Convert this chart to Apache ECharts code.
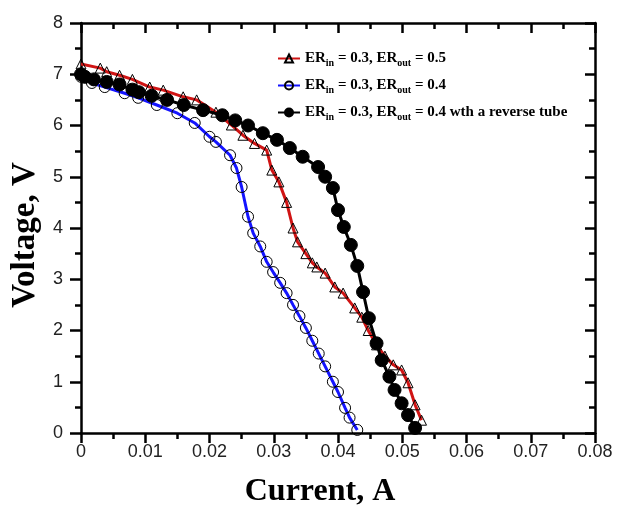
<!DOCTYPE html>
<html>
<head>
<meta charset="utf-8">
<script src="https://cdn.jsdelivr.net/npm/echarts@6/dist/echarts.min.js"></script>
<style>
  html, body { margin: 0; padding: 0; background: #fff; }
  #chart { width: 618px; height: 513px; }
</style>
</head>
<body>
<div id="chart"></div>
<script>
// current (A) / voltage (V)
const redX = [0, 0.003, 0.004, 0.006, 0.008, 0.0107, 0.0128, 0.0159, 0.018, 0.021, 0.0234, 0.0252, 0.027, 0.0289, 0.0297, 0.0308, 0.032, 0.033, 0.0337, 0.035, 0.036, 0.0367, 0.038, 0.0395, 0.0408, 0.0426, 0.0437, 0.0447, 0.046, 0.0473, 0.0486, 0.0499, 0.0509, 0.052, 0.053];
const redY = [7.2, 7.12, 7.05, 6.98, 6.9, 6.75, 6.69, 6.56, 6.5, 6.26, 6.01, 5.81, 5.65, 5.52, 5.13, 4.9, 4.5, 4.0, 3.73, 3.5, 3.32, 3.24, 3.12, 2.85, 2.73, 2.44, 2.26, 2.0, 1.72, 1.5, 1.33, 1.23, 0.98, 0.55, 0.25];

const blueX = [0, 0.0017, 0.0037, 0.0068, 0.0089, 0.0118, 0.015, 0.0177, 0.02, 0.021, 0.0232, 0.0242, 0.025, 0.026, 0.0268, 0.0279, 0.0289, 0.0299, 0.031, 0.032, 0.033, 0.034, 0.035, 0.036, 0.037, 0.038, 0.0392, 0.040, 0.0411, 0.0418, 0.043];
const blueY = [6.95, 6.83, 6.75, 6.63, 6.54, 6.4, 6.24, 6.05, 5.78, 5.68, 5.42, 5.17, 4.8, 4.22, 3.9, 3.64, 3.34, 3.14, 2.93, 2.73, 2.5, 2.28, 2.05, 1.8, 1.55, 1.3, 1.0, 0.8, 0.49, 0.3, 0.06];

const blackX = [0, 0.0006, 0.002, 0.004, 0.006, 0.008, 0.009, 0.011, 0.0134, 0.016, 0.019, 0.022, 0.024, 0.026, 0.0283, 0.0305, 0.0325, 0.0345, 0.0369, 0.038, 0.0392, 0.040, 0.0409, 0.042, 0.043, 0.0439, 0.0448, 0.046, 0.0468, 0.048, 0.0488, 0.0499, 0.0509, 0.052];
const blackY = [7.0, 6.95, 6.9, 6.85, 6.8, 6.7, 6.65, 6.58, 6.5, 6.4, 6.3, 6.2, 6.1, 6.0, 5.85, 5.72, 5.56, 5.39, 5.19, 5.0, 4.78, 4.35, 4.02, 3.67, 3.26, 2.75, 2.24, 1.75, 1.42, 1.1, 0.84, 0.58, 0.35, 0.1];

const seriesNames = [
  'ERin = 0.3, ERout = 0.5',
  'ERin = 0.3, ERout = 0.4',
  'ERin = 0.3, ERout = 0.4 wth a reverse tube'
];
// legend text with subscripts
const legendRich = [
  '{b|ER}{s|in}{b| = 0.3, ER}{s|out}{b| = 0.5}',
  '{b|ER}{s|in}{b| = 0.3, ER}{s|out}{b| = 0.4}',
  '{b|ER}{s|in}{b| = 0.3, ER}{s|out}{b| = 0.4 wth a reverse tube}'
];

const zip = (xs, ys) => xs.map((x, i) => [x, ys[i]]);

const serif = '"Liberation Serif", "Times New Roman", serif';
const sans = '"Liberation Sans", Arial, sans-serif';

const axisLine = { show: true, onZero: false, lineStyle: { color: '#000', width: 2.5 } };

const option = {
  animation: false,
  backgroundColor: '#fff',
  grid: { left: 81, right: 23, top: 23, bottom: 80 },
  legend: {
    data: seriesNames,
    orient: 'vertical',
    left: 272,
    top: 46,
    itemGap: 10,
    itemWidth: 22,
    itemHeight: 10,
    formatter: (name) => legendRich[seriesNames.indexOf(name)],
    textStyle: {
      rich: {
        b: { fontFamily: serif, fontWeight: 'bold', fontSize: 15, color: '#000' },
        s: { fontFamily: serif, fontWeight: 'bold', fontSize: 10, color: '#000', padding: [9, 0, 0, 0] }
      }
    }
  },
  xAxis: [
    {
      type: 'value', min: 0, max: 0.08, interval: 0.01,
      position: 'bottom',
      name: 'Current, A', nameLocation: 'middle', nameGap: 43,
      nameTextStyle: { fontFamily: serif, fontWeight: 'bold', fontSize: 32, color: '#000', padding: [0, 36, 0, 0] },
      axisLine: axisLine,
      axisTick: { show: true, inside: false, length: 10, lineStyle: { color: '#000', width: 2.5 } },
      minorTick: { show: true, splitNumber: 2, length: 6, lineStyle: { color: '#000', width: 2.5 } },
      axisLabel: { fontFamily: sans, fontSize: 18, color: '#222', margin: 10,
        formatter: (v) => (v === 0 ? '0' : v.toFixed(2)) },
      splitLine: { show: false }
    },
    {
      type: 'value', min: 0, max: 0.08, interval: 0.01,
      position: 'top',
      axisLine: axisLine,
      axisTick: { show: true, inside: true, length: 10, lineStyle: { color: '#000', width: 2.5 } },
      minorTick: { show: true, splitNumber: 2, length: 6, lineStyle: { color: '#000', width: 2.5 } },
      axisLabel: { show: false },
      splitLine: { show: false }
    }
  ],
  yAxis: [
    {
      type: 'value', min: 0, max: 8, interval: 1,
      position: 'left',
      name: 'Voltage, V', nameLocation: 'middle', nameGap: 39,
      nameTextStyle: { fontFamily: serif, fontWeight: 'bold', fontSize: 33, color: '#000', padding: [0, 14, 0, 0] },
      axisLine: axisLine,
      axisTick: { show: true, inside: false, length: 11, lineStyle: { color: '#000', width: 2.5 } },
      minorTick: { show: true, splitNumber: 2, length: 6, lineStyle: { color: '#000', width: 2.5 } },
      axisLabel: { fontFamily: sans, fontSize: 18, color: '#222', margin: 18 },
      splitLine: { show: false }
    },
    {
      type: 'value', min: 0, max: 8, interval: 1,
      position: 'right',
      axisLine: axisLine,
      axisTick: { show: true, inside: true, length: 10, lineStyle: { color: '#000', width: 2.5 } },
      minorTick: { show: true, splitNumber: 2, length: 6, lineStyle: { color: '#000', width: 2.5 } },
      axisLabel: { show: false },
      splitLine: { show: false }
    }
  ],
  series: [
    {
      name: seriesNames[0], type: 'line', data: zip(redX, redY),
      symbol: 'triangle', symbolSize: 10,
      lineStyle: { color: '#d01414', width: 3 },
      itemStyle: { color: 'rgba(255,255,255,0)', borderColor: '#000', borderWidth: 1 }
    },
    {
      name: seriesNames[1], type: 'line', data: zip(blueX, blueY),
      symbol: 'circle', symbolSize: 11,
      lineStyle: { color: '#1414ff', width: 3 },
      itemStyle: { color: 'rgba(255,255,255,0)', borderColor: '#000', borderWidth: 1 }
    },
    {
      name: seriesNames[2], type: 'line', data: zip(blackX, blackY),
      symbol: 'circle', symbolSize: 13,
      lineStyle: { color: '#000', width: 3 },
      itemStyle: { color: '#000', borderColor: '#000', borderWidth: 1 }
    }
  ]
};

const chart = echarts.init(document.getElementById('chart'));
chart.setOption(option);
</script>
</body>
</html>
